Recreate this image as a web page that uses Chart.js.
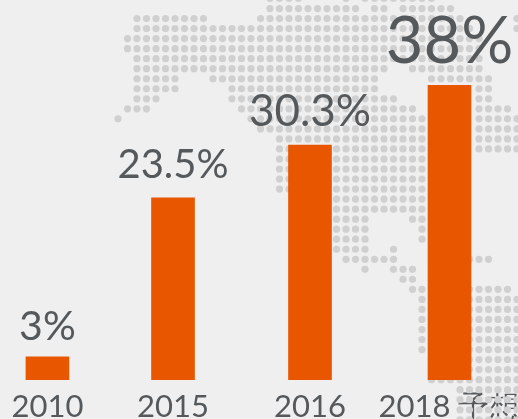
<!DOCTYPE html>
<html>
<head>
<meta charset="utf-8">
<script src="https://cdn.jsdelivr.net/npm/chart.js@4/dist/chart.umd.min.js"></script>
<style>
    html, body { margin: 0; padding: 0; background: #efefef; overflow: hidden; }
    canvas { display: block; }
</style>
</head>
<body>
<canvas id="myChart" width="518" height="419"></canvas>
<script>
const categories = ['2010', '2015', '2016', '2018 予想'];
const shareValues = [3, 23.5, 30.3, 38];
// the bars are not evenly spaced in the picture, so the x axis is linear
const slotPositions = [0, 0.937, 1.959, 3];
const labelSizes = [41, 40, 44, 65];
const labelGaps = [17, 20, 19, 22];

// background dot map: [first column, last column] runs, one line per row (first row is cut by the top edge)
const mapRows = [
    [[16,19],[24,24],[26,33]],
    [[16,25],[27,28],[30,35]],
    [[2,9],[15,36],[42,42]],
    [[2,37],[42,42]],
    [[1,38]],
    [[1,38]],
    [[2,38]],
    [[2,28],[31,38]],
    [[2,6],[10,27],[33,39]],
    [[2,6],[12,27],[38,39]],
    [[2,4],[12,29],[38,39]],
    [[1,3],[13,31],[38,41]],
    [[0,0],[14,33],[38,42]],
    [[15,33],[38,42]],
    [[17,33],[38,42]],
    [[17,33],[38,42]],
    [[17,33]],
    [[17,33]],
    [[17,33]],
    [[17,33]],
    [[23,33]],
    [[23,33]],
    [[23,26],[31,33]],
    [[23,26],[32,33]],
    [[23,26],[32,33]],
    [[23,26],[29,29],[33,33]],
    [[24,29],[33,39]],
    [[26,26],[29,31]],
    [[30,31]],
    [[31,33],[37,41]],
    [[32,42]],
    [[32,42]],
    [[32,42]],
    [[32,42]],
    [[32,42]],
    [[32,42]],
    [[33,42]],
    [[33,42]],
    [[33,42]],
    [[36,42]],
    [[36,42]],
    [[36,42]],
    [[36,42]]
];

const textColor = '#55595c';
const fontName = 'Lato, sans-serif';

// draws the dot map behind the bars
const dotMapPlugin = {
    id: 'dotMap',
    beforeDatasetsDraw(chart) {
        const ctx = chart.ctx;
        ctx.save();
        ctx.fillStyle = '#d0d0d0';
        mapRows.forEach(function(runs, row) {
            const y = -1.5 + row * 10.03;
            runs.forEach(function(run) {
                for (let col = run[0]; col <= run[1]; col++) {
                    ctx.beginPath();
                    ctx.arc(118 + col * 9.5, y, 3.6, 0, Math.PI * 2);
                    ctx.fill();
                }
            });
        });
        ctx.restore();
    }
};

// percent labels above the bars, each with its own size
const valueLabelPlugin = {
    id: 'valueLabels',
    afterDatasetsDraw(chart) {
        const ctx = chart.ctx;
        ctx.save();
        ctx.fillStyle = textColor;
        ctx.textAlign = 'center';
        ctx.textBaseline = 'alphabetic';
        chart.getDatasetMeta(0).data.forEach(function(bar, i) {
            ctx.font = labelSizes[i] + 'px ' + fontName;
            ctx.fillText(shareValues[i] + '%', bar.x, bar.y - labelGaps[i]);
        });
        ctx.restore();
    }
};

const ctx = document.getElementById('myChart').getContext('2d');
const chart = new Chart(ctx, {
    type: 'bar',
    data: {
        datasets: [{
            data: shareValues.map((v, i) => ({ x: slotPositions[i], y: v })),
            backgroundColor: '#e85700',
            barThickness: 43,
            borderWidth: 0
        }]
    },
    options: {
        responsive: false,
        animation: false,
        layout: { padding: 0 },
        plugins: { legend: { display: false }, tooltip: { enabled: false } },
        scales: {
            x: {
                type: 'linear',
                offset: false,
                min: -0.354,
                max: 3.511,
                grid: { display: false },
                border: { display: false },
                afterBuildTicks(axis) {
                    axis.ticks = slotPositions.map(v => ({ value: v }));
                },
                afterFit(axis) {
                    // tick labels may run to the edge, keep the full width for the plot
                    axis.height = 39;
                    axis.paddingLeft = 0;
                    axis.paddingRight = 0;
                },
                ticks: {
                    autoSkip: false,
                    maxRotation: 0,
                    padding: 0,
                    color: textColor,
                    font: { family: fontName, size: 31 },
                    callback: function(value) {
                        return categories[slotPositions.indexOf(value)];
                    }
                }
            },
            y: {
                display: false,
                min: 0,
                max: 49
            }
        }
    },
    plugins: [dotMapPlugin, valueLabelPlugin]
});
</script>
</body>
</html>
